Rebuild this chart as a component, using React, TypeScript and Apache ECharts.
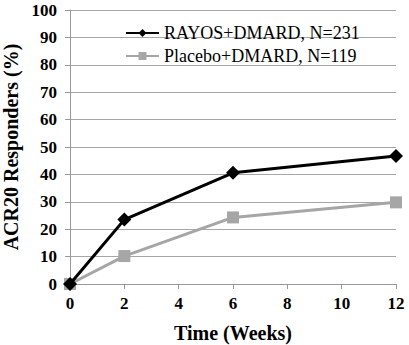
import React, { useEffect, useRef } from "react";
import * as echarts from "echarts";

const weeks = [0, 2, 6, 12];
const rayos = [0, 23.5, 40.6, 46.7];
const placebo = [0, 10.2, 24.3, 29.8];
const seriesNames = ["RAYOS+DMARD, N=231", "Placebo+DMARD, N=119"];

export default function App() {
  const ref = useRef<HTMLDivElement>(null);
  useEffect(() => {
    const chart = echarts.init(ref.current!, null, { renderer: "svg" });
    const font = "Liberation Serif";
    chart.setOption({
      animation: false,
      backgroundColor: "#fff",
      grid: { left: 70, right: 13, top: 10, bottom: 61, outerBoundsMode: "none", containLabel: false },
      legend: {
        orient: "vertical",
        left: 120,
        top: 19,
        itemWidth: 33,
        itemHeight: 10,
        itemGap: 5,
        textStyle: { fontFamily: font, fontSize: 18, color: "#000", lineHeight: 18 },
        data: seriesNames,
      },
      xAxis: {
        type: "value",
        min: 0,
        max: 12,
        interval: 2,
        name: "Time (Weeks)",
        nameLocation: "middle",
        nameGap: 39,
        nameTextStyle: { fontFamily: font, fontSize: 20, fontWeight: "bold", color: "#000" },
        axisLine: { show: true, lineStyle: { color: "#999" } },
        axisTick: { show: true, length: 5, lineStyle: { color: "#999" } },
        axisLabel: { fontFamily: font, fontSize: 17, fontWeight: "bold", color: "#000", margin: 11 },
        splitLine: { show: false },
      },
      yAxis: {
        type: "value",
        min: 0,
        max: 100,
        interval: 10,
        name: "ACR20 Responders (%)",
        nameLocation: "middle",
        nameGap: 48,
        nameTextStyle: { fontFamily: font, fontSize: 20, fontWeight: "bold", color: "#000" },
        axisLine: { show: true, lineStyle: { color: "#999" } },
        axisTick: { show: true, length: 5, lineStyle: { color: "#999" } },
        axisLabel: { fontFamily: font, fontSize: 17, fontWeight: "bold", color: "#000", margin: 13 },
        splitLine: { show: true, lineStyle: { color: "#a6a6a6" } },
      },
      series: [
        {
          name: seriesNames[0],
          type: "line",
          data: weeks.map((w, i) => [w, rayos[i]]),
          symbol: "diamond",
          symbolSize: 14,
          itemStyle: { color: "#000" },
          lineStyle: { color: "#000", width: 3 },
          z: 3,
        },
        {
          name: seriesNames[1],
          type: "line",
          data: weeks.map((w, i) => [w, placebo[i]]),
          symbol: "rect",
          symbolSize: 12,
          itemStyle: { color: "#a6a6a6" },
          lineStyle: { color: "#a6a6a6", width: 3 },
          z: 2,
        },
      ],
    });
    return () => chart.dispose();
  }, []);
  return <div ref={ref} style={{ width: 409, height: 345, position: "absolute", left: 0, top: 0 }} />;
}
